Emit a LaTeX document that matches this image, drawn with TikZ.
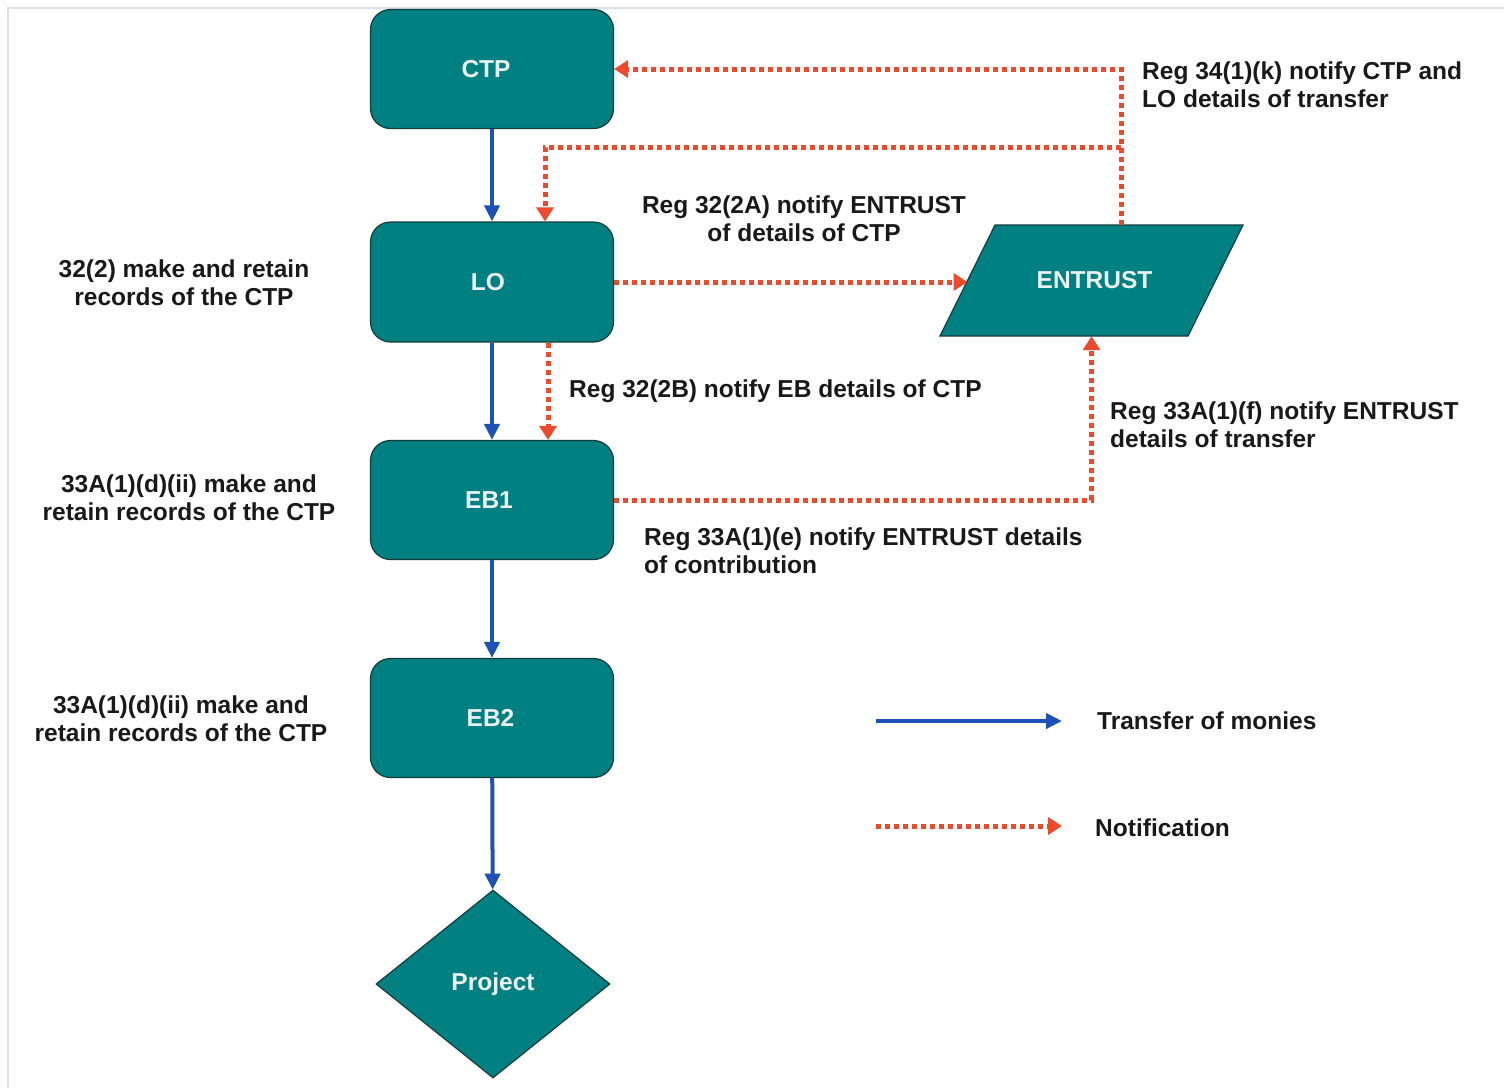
\documentclass[tikz,border=0pt]{standalone}
\usepackage{fontspec}
\setmainfont{Liberation Sans}
\usetikzlibrary{arrows.meta,shapes.geometric}
\definecolor{tealfill}{RGB}{0,128,128}
\definecolor{tealedge}{RGB}{20,60,60}
\definecolor{monies}{RGB}{30,80,185}
\definecolor{notif}{RGB}{238,72,45}
\definecolor{lbl}{RGB}{25,25,25}
\definecolor{framecol}{RGB}{215,225,235}
\definecolor{boxtext}{RGB}{235,242,242}
\begin{document}
\begin{tikzpicture}[x=1pt,y=-1pt,
  every node/.style={font=\fontsize{24.5}{28}\selectfont\bfseries},
  box/.style={draw=tealedge, line width=1.2pt, fill=tealfill, rounded corners=20pt,
    minimum width=243pt, minimum height=119pt, text=boxtext, inner sep=0pt},
  shapefill/.style={draw=tealedge, line width=1.2pt, fill=tealfill},
  lbl/.style={text=lbl, inner sep=0pt},
  money/.style={draw=monies, line width=4pt, -{Triangle[length=16pt,width=15pt]}},
  note/.style={draw=notif, line width=5pt, dash pattern=on 5pt off 4pt,
    -{Triangle[length=14pt,width=17pt]}}
]
\fill[white] (0,0) rectangle (1504,1088);
\useasboundingbox (0,0) rectangle (1504,1088);
\draw[framecol, line width=2pt] (8,1088) -- (8,8) -- (1504,8);

% main nodes
\node[box] (ctp) at (492,69) {\hspace*{-12pt}CTP};
\node[box, minimum height=120pt] (lo) at (492,282) {\hspace*{-8pt}LO};
\node[box] (eb1) at (492,500) {\hspace*{-6pt}EB1};
\node[box] (eb2) at (492,718) {\hspace*{-3pt}EB2};
\node[diamond, shapefill, minimum width=234pt,
  minimum height=188pt, aspect=1.245, inner sep=0pt, text=boxtext] (proj) at (493,984) {Project};
% ENTRUST parallelogram
\filldraw[shapefill] (995,225) -- (1243,225) -- (1188,336) -- (940,336) -- cycle;
\node[minimum width=303pt, minimum height=111pt, inner sep=0pt, text=boxtext] (ent) at (1091.5,280.5) {\hspace*{6pt}ENTRUST};
\coordinate (entw) at (967.5,282);

% transfer of monies
\draw[money] (ctp) -- (lo);
\draw[money] (lo) -- (eb1);
\draw[money] (eb1) -- (eb2);
\draw[money] (eb2) -- (proj);

% notifications
\coordinate (kx) at (1121,0);
\coordinate (bj) at (1121,147);
\coordinate (lx) at (545,147);
\coordinate (dx) at (548,0);
\draw[note] (ent.north -| kx) |- (ctp.east);
\draw[note] (bj) -| (lo.north -| lx);
\draw[note] (lo.east) -- (entw);
\draw[note] (lo.south -| dx) -- (eb1.north -| dx);
\draw[note] (eb1.east) -| (ent.south);

% labels (base anchor = baseline of last line)
\node[lbl, anchor=base west, align=left] (l34) at (1142,107) {Reg 34(1)(k) notify CTP and\\LO details of transfer};
\node[lbl, anchor=base, align=center] (l32a) at (804,241) {Reg 32(2A) notify ENTRUST\\of details of CTP};
\node[lbl, anchor=base, align=center] (l322) at (184,305) {32(2) make and retain\\records of the CTP};
\node[lbl, anchor=base west] (l32b) at (569,397) {Reg 32(2B) notify EB details of CTP};
\node[lbl, anchor=base west, align=left] (l33f) at (1110,447) {Reg 33A(1)(f) notify ENTRUST\\details of transfer};
\node[lbl, anchor=base, align=center] (l33d1) at (189,520) {33A(1)(d)(ii) make and\\retain records of the CTP};
\node[lbl, anchor=base west, align=left] (l33e) at (644,573) {Reg 33A(1)(e) notify ENTRUST details\\of contribution};
\node[lbl, anchor=base, align=center] (l33d2) at (181,741) {33A(1)(d)(ii) make and\\retain records of the CTP};

% legend
\coordinate (t1) at (876,721);
\coordinate (t2) at (1062,721);
\draw[money] (t1) -- (t2);
\node[lbl, anchor=base west] (tm) at (1097,729) {Transfer of monies};
\coordinate (n1) at (876,826);
\coordinate (n2) at (1062,826);
\draw[note] (n1) -- (n2);
\node[lbl, anchor=base west] (nt) at (1095,836) {Notification};
\end{tikzpicture}
\end{document}
